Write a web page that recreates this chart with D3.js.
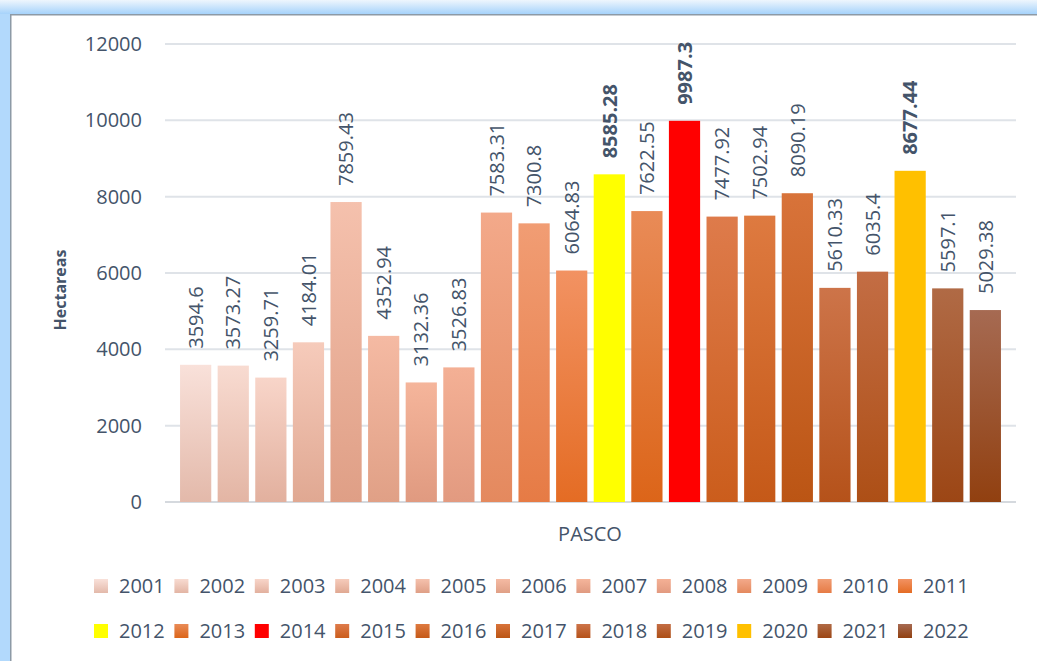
<!DOCTYPE html>
<html>
<head>
<meta charset="utf-8">
<script src="https://cdn.jsdelivr.net/npm/d3@7"></script>
<style>
  body { margin: 0; background: #fff; }
  svg { display: block; font-family: "Open Sans", "Noto Sans", sans-serif; }
</style>
</head>
<body>
<div id="chart"></div>
<script>
// data
let years = ['2001','2002','2003','2004','2005','2006','2007','2008','2009','2010','2011',
             '2012','2013','2014','2015','2016','2017','2018','2019','2020','2021','2022'];
let hectareas = [3594.6, 3573.27, 3259.71, 4184.01, 7859.43, 4352.94, 3132.36, 3526.83, 7583.31, 7300.8, 6064.83,
                 8585.28, 7622.55, 9987.3, 7477.92, 7502.94, 8090.19, 5610.33, 6035.4, 8677.44, 5597.1, 5029.38];
let boldYears = ['2012', '2014', '2020'];
let topColors = ['#f9e1da','#f8dbd1','#f8d5c9','#f6cbbb','#f5c1ad','#f5baa3','#f5b59b','#f4b095','#f3a98a','#f19d74','#f29262',
                 '#ffff00','#e98b57','#ff0000','#de7b4b','#de7a40','#d8733a','#cd7449','#c36d44','#ffc000','#b06a45','#a66a52'];
let bottomColors = ['#e3b9aa','#e3b5a4','#e2b09e','#e0a892','#df9f86','#e0a086','#e09a80','#e29a80','#e4895e','#e67b45','#e46c24',
                    '#ffff00','#dc6519','#ff0000','#cb5d1c','#c55918','#bb5514','#b5521a','#ad4f16','#ffc000','#9c4615','#914010'];
let yTicks = [0, 2000, 4000, 6000, 8000, 10000, 12000];
let category = ['PASCO'];

let width = 1037, height = 661;
let textColor = '#44546a';
let plot = {left: 165, right: 1016, top: 44, bottom: 502};

let data = years.map((y, i) => ({year: y, value: hectareas[i], top: topColors[i], bottom: bottomColors[i], bold: boldYears.includes(y)}));

let svg = d3.select('#chart').append('svg')
    .attr('width', width)
    .attr('height', height);

let defs = svg.append('defs');

// window frame around the screenshot
let frameGrad = defs.append('linearGradient')
    .attr('id', 'frame-top')
    .attr('x1', 0).attr('y1', 0).attr('x2', 0).attr('y2', 1);
frameGrad.append('stop').attr('offset', '0%').attr('stop-color', '#eef6fd');
frameGrad.append('stop').attr('offset', '100%').attr('stop-color', '#a6d3fb');

svg.append('rect').attr('x', 0).attr('y', 0).attr('width', 11).attr('height', height).attr('fill', '#b2d9fc');
svg.append('rect').attr('x', 0).attr('y', 0).attr('width', width).attr('height', 14).attr('fill', 'url(#frame-top)');
svg.append('rect').attr('x', 10).attr('y', 14).attr('width', width - 10).attr('height', 1.5).attr('fill', '#8d9aa6');
svg.append('rect').attr('x', 10).attr('y', 14).attr('width', 1.5).attr('height', height - 14).attr('fill', '#8d9aa6');

// one gradient per series
data.forEach((d, i) => {
    let g = defs.append('linearGradient')
        .attr('id', `grad${i}`)
        .attr('x1', 0).attr('y1', 0).attr('x2', 0).attr('y2', 1);
    g.append('stop').attr('offset', '0%').attr('stop-color', d.top);
    g.append('stop').attr('offset', '100%').attr('stop-color', d.bottom);
});

let x0 = d3.scaleBand()
    .domain(category)
    .range([plot.left, plot.right]);

let x1 = d3.scaleBand()
    .domain(years)
    .range([0, x0.bandwidth()])
    .paddingInner(0.17)
    .paddingOuter(0.4);

let y = d3.scaleLinear()
    .domain([0, 12000])
    .range([plot.bottom, plot.top]);

// gridlines
svg.append('g')
    .selectAll('line')
    .data(yTicks)
    .join('line')
    .attr('x1', plot.left)
    .attr('x2', plot.right)
    .attr('y1', d => y(d))
    .attr('y2', d => y(d))
    .attr('stroke', d => d === 0 ? '#d5d9de' : '#dfe3e8')
    .attr('stroke-width', 2);

// y axis labels
let yAxis = svg.append('g')
    .attr('transform', `translate(${plot.left - 23},0)`)
    .call(d3.axisLeft(y).tickValues(yTicks).tickSize(0).tickPadding(0).tickFormat(d3.format('d')));
yAxis.select('.domain').remove();
yAxis.selectAll('text')
    .attr('fill', textColor)
    .style('font-size', '20px')
    .style('font-family', '"Open Sans", sans-serif');

svg.append('text')
    .attr('transform', 'translate(66,290) rotate(-90)')
    .attr('text-anchor', 'middle')
    .attr('fill', textColor)
    .attr('font-weight', 'bold')
    .style('font-size', '16px')
    .text('Hectareas');

// bars
let group = svg.append('g')
    .attr('transform', `translate(${x0('PASCO')},0)`);

group.selectAll('rect')
    .data(data)
    .join('rect')
    .attr('x', d => x1(d.year))
    .attr('y', d => y(d.value))
    .attr('width', x1.bandwidth())
    .attr('height', d => y(0) - y(d.value))
    .attr('fill', (d, i) => `url(#grad${i})`);

group.selectAll('text.lbl')
    .data(data)
    .join('text')
    .attr('class', 'lbl')
    .attr('transform', d => `translate(${x1(d.year) + x1.bandwidth() / 2},${y(d.value) - 16}) rotate(-90)`)
    .attr('dy', '0.36em')
    .attr('text-anchor', 'start')
    .attr('fill', textColor)
    .attr('font-weight', d => d.bold ? 'bold' : 'normal')
    .style('font-size', '20px')
    .text(d => d.value);

// category label
svg.append('text')
    .attr('x', x0('PASCO') + x0.bandwidth() / 2 - 0.5)
    .attr('y', 541)
    .attr('text-anchor', 'middle')
    .attr('fill', textColor)
    .style('font-size', '20px')
    .text('PASCO');

// legend, 11 per row
let legend = svg.append('g')
    .selectAll('g')
    .data(data)
    .join('g')
    .attr('transform', (d, i) => `translate(${94 + (i % 11) * 80.4},${i < 11 ? 586 : 631})`);

legend.append('rect')
    .attr('x', 0)
    .attr('y', -7)
    .attr('width', 14)
    .attr('height', 14)
    .attr('fill', (d, i) => `url(#grad${i})`);

legend.append('text')
    .attr('x', 25)
    .attr('dy', '0.36em')
    .attr('fill', textColor)
    .style('font-size', '20px')
    .text(d => d.year);
</script>
</body>
</html>
